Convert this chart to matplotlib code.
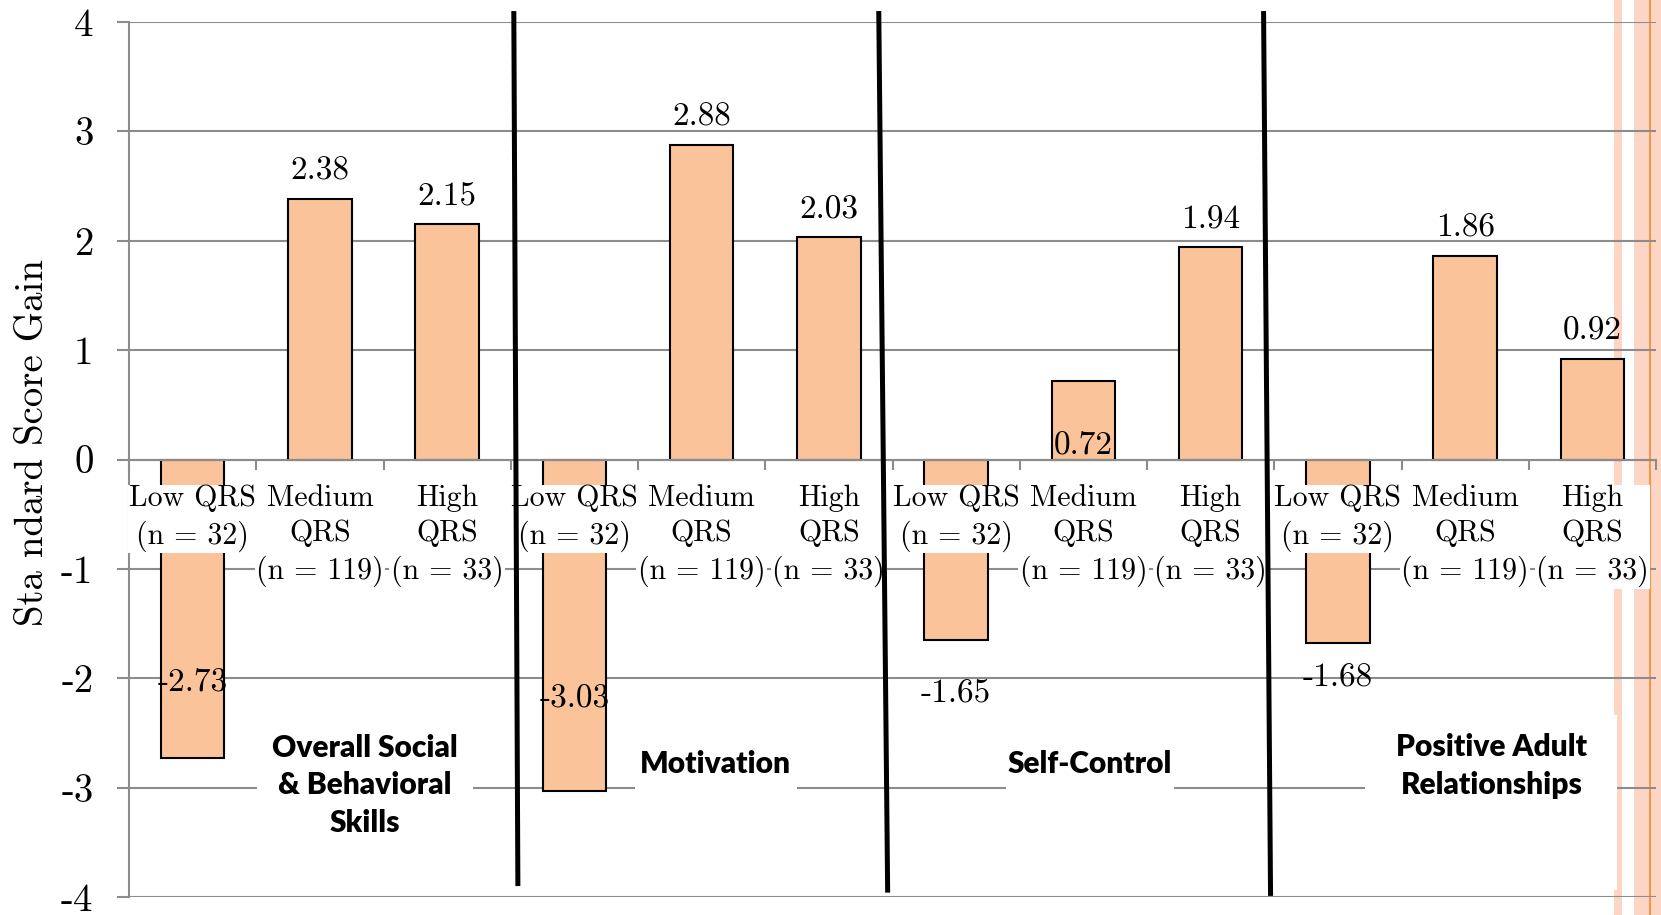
import numpy as np
import matplotlib
matplotlib.use("Agg")
import matplotlib.pyplot as plt
from matplotlib.patches import Rectangle

# standard score gains by QRS level within each domain
groups = ["Overall Social\n& Behavioral\nSkills", "Motivation", "Self-Control",
          "Positive Adult\nRelationships"]
levels = ["Low QRS\n(n = 32)", "Medium\nQRS\n(n = 119)", "High\nQRS\n(n = 33)"]
gains = [-2.73, 2.38, 2.15,
         -3.03, 2.88, 2.03,
         -1.65, 0.72, 1.94,
         -1.68, 1.86, 0.92]
yticks = [-4, -3, -2, -1, 0, 1, 2, 3, 4]

# value labels that sit inside or below their bar (bar index -> label y)
label_y = {0: -2.03, 3: -2.19, 6: -2.14, 7: 0.13, 9: -2.00}

# hand-drawn divider lines between domains: (x top, y top, x bottom, y bottom)
dividers = [(2.524, 4.10, 2.556, -3.90),
            (5.392, 4.10, 5.462, -3.96),
            (8.416, 4.10, 8.471, -3.99)]

# white text boxes holding the domain names
title_boxes = [(0.506, 2.202), (3.475, 4.747), (6.389, 7.709), (9.217, 11.197)]
title_y = [-2.98, -2.78, -2.78, -2.80]

gray = "#8c8c8c"
bar_color = "#fbc39a"

plt.rcParams["font.family"] = "cmr10"
plt.rcParams["axes.unicode_minus"] = False

fig = plt.figure(figsize=(16.61, 9.15), dpi=100)

# slide background stripes on the right edge
fig.patches.append(Rectangle((1614 / 1661, 0), 8 / 1661, 1, transform=fig.transFigure,
                             fc="#fdd5c5", ec="none", zorder=0))
fig.patches.append(Rectangle((1634 / 1661, 0), 27 / 1661, 1, transform=fig.transFigure,
                             fc="#fdd5c5", ec="none", zorder=0))
fig.patches.append(Rectangle((1649 / 1661, 0), 2 / 1661, 1, transform=fig.transFigure,
                             fc="#f79646", ec="none", zorder=0))

ax = fig.add_axes([129 / 1661, 18 / 915, 1527 / 1661, 875 / 915])
ax.set_facecolor("none")
ax.set_zorder(1)

x = np.arange(len(gains))
ax.bar(x, gains, width=0.5, color=bar_color, edgecolor="black", linewidth=1.5, zorder=2)

for i, v in enumerate(gains):
    if i in label_y:
        ax.text(i, label_y[i], f"{v:.2f}", ha="center", va="center", fontsize=24, zorder=5)
    else:
        ax.annotate(f"{v:.2f}", (i, v), xytext=(0, 20), textcoords="offset points",
                    ha="center", va="center", fontsize=24, zorder=5)

ax.set_xlim(-0.5, len(gains) - 0.5)
ax.set_ylim(-4, 4)

ax.spines["top"].set_visible(False)
ax.spines["right"].set_visible(False)
ax.spines["bottom"].set_position(("data", 0))
for side in ["left", "bottom"]:
    ax.spines[side].set_color(gray)
    ax.spines[side].set_linewidth(1.5)

ax.set_axisbelow(True)
ax.yaxis.grid(True, color=gray, linewidth=1.5)

ax.set_yticks(yticks, labels=[str(t) for t in yticks])
ax.tick_params(axis="y", length=8.6, width=1.5, color=gray, pad=17, labelsize=28)

ax.set_xticks(x, labels=[])
ax.set_xticks(np.arange(-0.5, len(gains)), minor=True)
ax.tick_params(axis="x", which="major", length=0)
ax.tick_params(axis="x", which="minor", length=7.2, width=1.5, color=gray)

for i, lab in enumerate(levels * len(groups)):
    ax.text(i, -0.23, lab, ha="center", va="top", fontsize=21.5, linespacing=1.36,
            bbox=dict(fc="white", ec="none", pad=1), zorder=4)

for (x0, x1), name, ty in zip(title_boxes, groups, title_y):
    ax.add_patch(Rectangle((x0, -3.94), x1 - x0, 1.60, fc="white", ec="none", zorder=3))
    ax.text((x0 + x1) / 2, ty, name, ha="center", va="center", fontsize=21.5,
            family="Lato", weight="heavy", linespacing=1.42, zorder=4)

for xt, yt, xb, yb in dividers:
    ax.plot([xt, xb], [yt, yb], color="black", linewidth=3.6, clip_on=False,
            solid_capstyle="butt", zorder=6)

fig.text(33 / 1661, 1 - 443 / 915, "Sta ndard Score Gain", rotation=90,
         ha="center", va="center", fontsize=28)

fig.savefig("out.png", dpi=100)
